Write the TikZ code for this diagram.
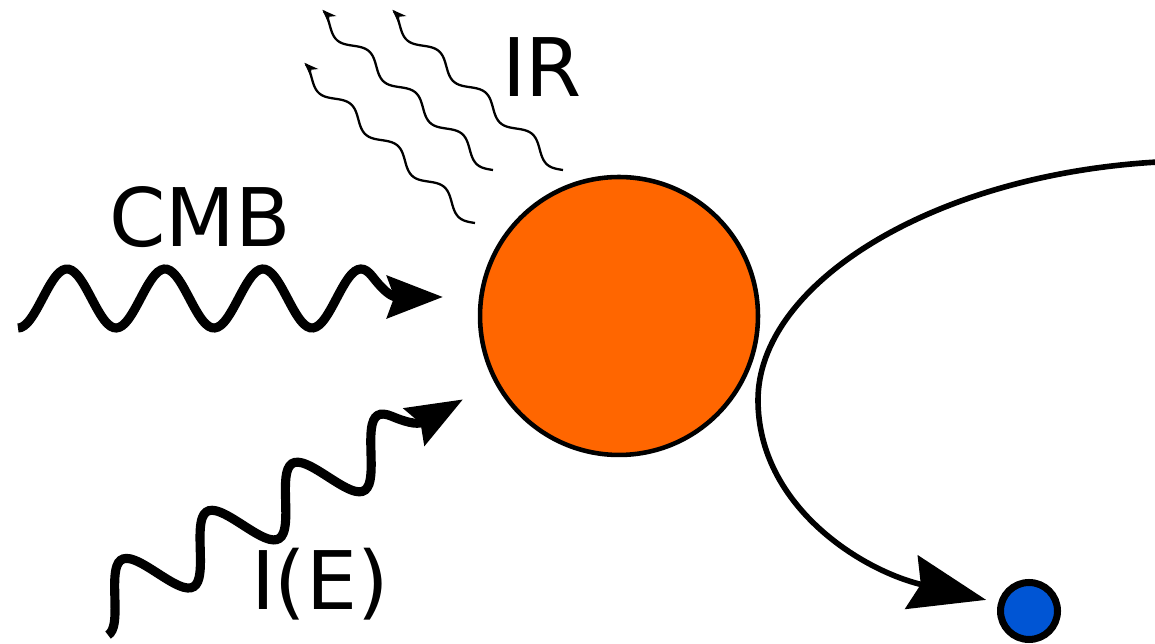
\documentclass[tikz,border=0pt]{standalone}
\usepackage{fontspec}
\setmainfont{DejaVu Sans}
\usepackage{xcolor}
\usetikzlibrary{arrows.meta}

\definecolor{dustorange}{HTML}{FF6600}
\definecolor{grainblue}{HTML}{0055D4}

\begin{document}
\begin{tikzpicture}[
  x=0.02cm, y=0.02cm,
  dust/.style={circle, draw, line width=2.6pt, fill=dustorange,
               inner sep=0pt, minimum size=5.56cm},
  grain/.style={circle, draw, line width=4pt, fill=grainblue,
                inner sep=0pt, minimum size=1.14cm},
  photon/.style={line width=5.2pt, -{Stealth[length=31.7pt, width=23.8pt, inset=4pt]}},
  irphoton/.style={line width=1.3pt, -{Stealth[length=8pt, width=6pt, inset=2.4pt]}},
  traj/.style={line width=3.2pt, -{Stealth[length=43.6pt, width=31.2pt, inset=5.4pt]}},
  lbl/.style={anchor=base, inner sep=0pt, font=\fontsize{46}{50}\selectfont}
]
\useasboundingbox (0,0) rectangle (1155,644);

\node[dust]  (dust)  at (619,328) {};
\node[grain] (grain) at (1029,33) {};

% CMB photon
\begin{scope}[shift={(18,316)}]
  \draw[photon] plot[domain=0:3.62, samples=120, smooth] ({98*\x}, {29.5-29.5*cos(360*\x)})
    .. controls (362.8,40.7) and (372,31) .. (425,31);
\end{scope}

% I(E) photon, same wave turned
\begin{scope}[shift={(108,9)}, rotate=29.4]
  \draw[photon] plot[domain=0:3.62, samples=120, smooth] ({98*\x}, {29.5-29.5*cos(360*\x)})
    .. controls (362.8,40.7) and (372,31) .. (425,31);
\end{scope}

% IR re-emission
\begin{scope}[shift={(475,421)}, rotate=138.4]
  \draw[irphoton] plot[domain=0:3.75, samples=90, smooth] ({62.4*\x}, {6.5*sin(360*\x)});
\end{scope}
\begin{scope}[shift={(493,474)}, rotate=138.4]
  \draw[irphoton] plot[domain=0:3.75, samples=90, smooth] ({62.4*\x}, {6.5*sin(360*\x)});
\end{scope}
\begin{scope}[shift={(563,474)}, rotate=138.4]
  \draw[irphoton] plot[domain=0:3.75, samples=90, smooth] ({62.4*\x}, {6.5*sin(360*\x)});
\end{scope}

\node[lbl] (ir)  at (542,547) {IR};
\node[lbl] (cmb) at (200,397) {CMB};
\node[lbl] (ie)  at (320,34)  {I(E)};

% deflected grain path
\coordinate (src) at (1158,482);
\draw[traj, shorten >=7pt] (src) .. controls (930,469) and (758,359) .. (758,244)
  .. controls (758,139) and (860,74) .. (grain.165);
\end{tikzpicture}
\end{document}
